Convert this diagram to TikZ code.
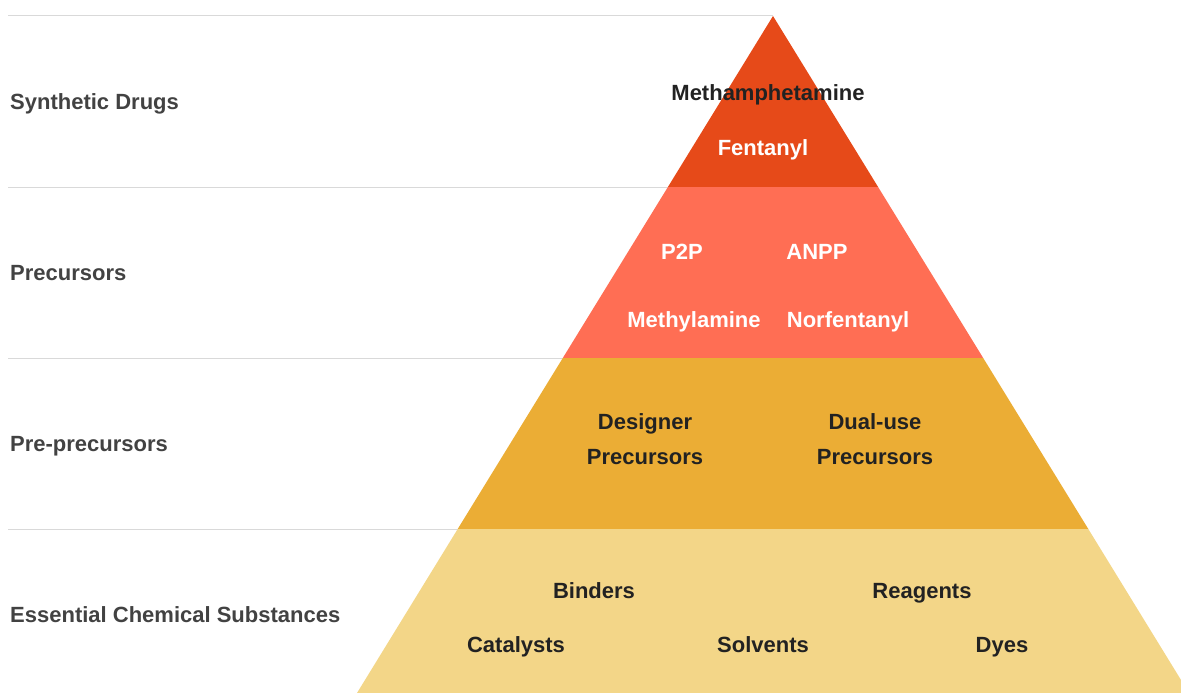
\documentclass[tikz,border=0pt]{standalone}
\usepackage{fontspec}
\setmainfont{Liberation Sans}
\definecolor{lvlA}{HTML}{E64A19}
\definecolor{lvlB}{HTML}{FF6E54}
\definecolor{lvlC}{HTML}{EBAD35}
\definecolor{lvlD}{HTML}{F3D688}
\definecolor{sidetxt}{HTML}{424242}
\definecolor{intxt}{HTML}{222222}
\definecolor{rule}{HTML}{D9D9D9}
\tikzset{
  sidelabel/.style={anchor=west, inner sep=0pt, text=sidetxt, text height=0.72em, text depth=0pt, font=\fontsize{22}{26}\selectfont\bfseries},
  darkitem/.style={inner sep=0pt, text=intxt, text height=0.72em, text depth=0pt, font=\fontsize{22}{35}\selectfont\bfseries},
  lightitem/.style={darkitem, text=white},
  twoline/.style={inner sep=0pt, text=intxt, font=\fontsize{22}{35}\selectfont\bfseries, align=center},
  rowrule/.style={draw=rule, line width=1pt}
}
\begin{document}
\begin{tikzpicture}[x=1pt,y=-1pt]
\useasboundingbox (0,0) rectangle (1181,693);
% rules
\coordinate (r0a) at (8,16);   \coordinate (r0b) at (773,16);
\coordinate (r1a) at (8,187);  \coordinate (r1b) at (773,187);
\coordinate (r2a) at (8,358);  \coordinate (r2b) at (773,358);
\coordinate (r3a) at (8,529);  \coordinate (r3b) at (773,529);
\draw[rowrule] (r0a) -- (r0b);
\draw[rowrule] (r1a) -- (r1b);
\draw[rowrule] (r2a) -- (r2b);
\draw[rowrule] (r3a) -- (r3b);
% pyramid bands
\fill[lvlA] (773,16) -- (878.1,187) -- (667.9,187) -- cycle;
\fill[lvlB] (667.9,187) -- (878.1,187) -- (983.2,358) -- (562.8,358) -- cycle;
\fill[lvlC] (562.8,358) -- (983.2,358) -- (1088.3,529) -- (457.7,529) -- cycle;
\fill[lvlD] (457.7,529) -- (1088.3,529) -- (1189,693) -- (357,693) -- cycle;
% side labels
\node[sidelabel] (sd) at (10,106) {Synthetic Drugs};
\node[sidelabel] (pc) at (10,277) {Precursors};
\node[sidelabel] (pp) at (10,448) {Pre-precursors};
\node[sidelabel] (ec) at (10,619) {Essential Chemical Substances};
% level 1
\node[darkitem] (meth) at (768,97) {Methamphetamine};
\node[lightitem] (fent) at (763,152) {Fentanyl};
% level 2
\node[lightitem] (p2p) at (682,256) {P2P};
\node[lightitem] (anpp) at (817,256) {ANPP};
\node[lightitem] (mea) at (694,324) {Methylamine};
\node[lightitem] (norf) at (848,324) {Norfentanyl};
% level 3
\node[twoline] (desig) at (645,439) {Designer\\Precursors};
\node[twoline] (dual) at (875,439) {Dual-use\\Precursors};
% level 4
\node[darkitem] (bind) at (594,595) {Binders};
\node[darkitem] (reag) at (922,595) {Reagents};
\node[darkitem] (cat) at (516,649) {Catalysts};
\node[darkitem] (solv) at (763,649) {Solvents};
\node[darkitem] (dyes) at (1002,649) {Dyes};
\end{tikzpicture}
\end{document}
